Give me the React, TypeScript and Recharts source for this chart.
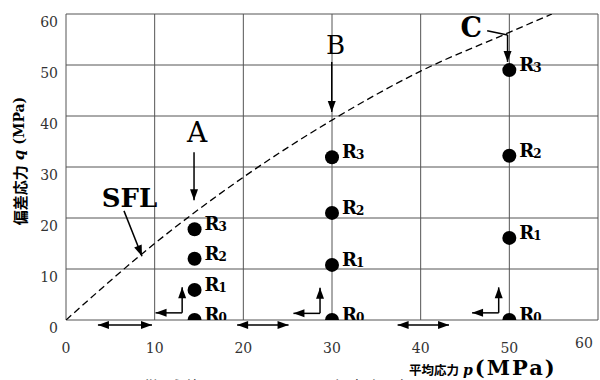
import {
    ComposedChart, XAxis, YAxis, CartesianGrid, Line, Scatter,
    ReferenceLine, ReferenceDot,
} from "recharts";

const SERIF = "'DejaVu Serif', serif";
const JP = "'Noto Sans CJK JP', sans-serif";

const TICKS = [0, 10, 20, 30, 40, 50, 60];
const STAGES = ["0", "1", "2", "3"];

// 供試体 A, B, C : 平均応力 p と 偏差応力 q (R0..R3)
const P_A = 14.5;
const Q_A = [0, 5.9, 12.0, 17.8];
const P_B = 30;
const Q_B = [0, 10.8, 21.0, 31.9];
const P_C = 50;
const Q_C = [0, 16.1, 32.2, 49.0];

// SFL (破線)
const SFL_P = [0, 10, 20, 30, 40, 50, 54.8];
const SFL_Q = [0, 15, 28, 39.2, 48.8, 56.4, 60];

const toPoints = (p: number, qs: number[]) => qs.map((q, i) => ({ p, q, stage: STAGES[i] }));
const sflData = SFL_P.map((p, i) => ({ p, q: SFL_Q[i] }));

// 注記の矢印 [p1, q1, p2, q2]
const POINTERS = [
    [14.44, 32.9, 14.44, 23.5],   // A
    [29.97, 50.6, 29.97, 40.8],   // B
    [49.8, 55.9, 49.8, 50.6],     // C
    [6.54, 21.4, 8.57, 12.5],     // SFL
];
const C_LEADER = [47.5, 56.7, 49.8, 55.9];
// 軸下の両矢印
const DOUBLE_ARROWS = [
    [3.6, 9.7],
    [19.3, 25.1],
    [37.4, 43.2],
];
const ARROW_Q = -1;
// L字矢印 (角の p, q)
const CORNERS = [
    [13.1, 1.4],
    [28.65, 1.3],
    [48.8, 1.4],
];

const arrowShape = (both: boolean) => (props: any) => {
    const { x1, y1, x2, y2 } = props;
    const dx = x2 - x1, dy = y2 - y1;
    const len = Math.sqrt(dx * dx + dy * dy) || 1;
    const ux = dx / len, uy = dy / len;
    const head = (tx: number, ty: number, sx: number, sy: number) => {
        const bx = tx - sx * 11, by = ty - sy * 11;
        return `${tx},${ty} ${bx - sy * 4},${by + sx * 4} ${bx + sy * 4},${by - sx * 4}`;
    };
    return (
        <g>
            <line x1={x1} y1={y1} x2={x2} y2={y2} stroke="#000" strokeWidth={1.5} />
            <polygon points={head(x2, y2, ux, uy)} fill="#000" />
            {both && <polygon points={head(x1, y1, -ux, -uy)} fill="#000" />}
        </g>
    );
};

const plainLine = (props: any) => (
    <line x1={props.x1} y1={props.y1} x2={props.x2} y2={props.y2} stroke="#000" strokeWidth={1.5} />
);

const textShape = (label: string, size: number, weight: string) => (props: any) => (
    <text x={props.cx} y={props.cy} textAnchor="middle" dominantBaseline="central"
        fontFamily={SERIF} fontSize={size} fontWeight={weight} fill="#000">{label}</text>
);

const StageDot = (props: any) => {
    const { cx, cy, payload } = props;
    return (
        <g>
            <circle cx={cx} cy={cy} r={7} fill="#000" />
            <text x={cx + 10} y={cy + 1} fontFamily={SERIF} fontSize={18} fontWeight="bold" fill="#000">
                R<tspan fontSize={12} dx={-1} dy={1}>{payload.stage}</tspan>
            </text>
        </g>
    );
};

const XTick = (props: any) => {
    const { x, y, payload } = props;
    const last = payload.value === 60;
    return (
        <text x={last ? x - 8 : x} y={y + (last ? 28 : 33)} textAnchor="middle"
            fontFamily={SERIF} fontSize={14} fill="#333">{payload.value}</text>
    );
};

const YTick = (props: any) => {
    const { x, y, payload } = props;
    return (
        <text x={x - 8} y={y + 13} textAnchor="end" fontFamily={SERIF} fontSize={14} fill="#333">
            {payload.value}
        </text>
    );
};

const YTitle = (props: any) => {
    const vb = props.viewBox;
    const cx = vb.x + 19;
    const cy = vb.y + vb.height / 2 - 6;
    return (
        <text x={cx} y={cy} transform={`rotate(-90, ${cx}, ${cy})`} textAnchor="middle"
            dominantBaseline="central" fill="#000" fontWeight="bold">
            <tspan fontFamily={JP} fontSize={15}>偏差応力</tspan>
            <tspan fontFamily={SERIF} fontStyle="italic" fontSize={15} dx={5}>q</tspan>
            <tspan fontFamily={SERIF} fontSize={14} dx={5}>(MPa)</tspan>
        </text>
    );
};

const XTitle = () => (
    <g>
        <text x={409} y={375} fill="#000" fontWeight="bold">
            <tspan fontFamily={JP} fontSize={12.5}>平均応力</tspan>
            <tspan fontFamily={SERIF} fontStyle="italic" fontSize={14} dx={4}>p</tspan>
            <tspan fontFamily={SERIF} fontSize={21} letterSpacing={2} dx={2}>(MPa)</tspan>
        </text>
        <text x={77} y={394} fill="#000" fontFamily={JP} fontSize={17} letterSpacing={4}>
            図-4　供試体 A，B，C の応力経路
        </text>
    </g>
);

export default function App() {
    return (
        <div style={{ position: "absolute", left: 0, top: 0, background: "#fff" }}>
            <ComposedChart width={600} height={380} margin={{ top: 14, right: 2, left: 0, bottom: 0 }}>
                <CartesianGrid stroke="#555" strokeWidth={1} />
                <XAxis type="number" dataKey="p" domain={[0, 60]} ticks={TICKS} allowDataOverflow
                    height={60} axisLine={false} tickLine={false} tickSize={0} tickMargin={0}
                    tick={<XTick />} label={<XTitle />} />
                <YAxis type="number" dataKey="q" domain={[0, 60]} ticks={TICKS} allowDataOverflow
                    width={66} axisLine={false} tickLine={false} tickSize={0} tickMargin={0}
                    tick={<YTick />} label={<YTitle />} />

                <Line data={sflData} dataKey="q" type="monotone" stroke="#000" strokeWidth={1.3}
                    strokeDasharray="7 4" dot={false} activeDot={false} isAnimationActive={false} />

                {POINTERS.map(([p1, q1, p2, q2], i) => (
                    <ReferenceLine key={`ptr${i}`} segment={[{ x: p1, y: q1 }, { x: p2, y: q2 }]}
                        ifOverflow="visible" shape={arrowShape(false)} />
                ))}
                <ReferenceLine segment={[{ x: C_LEADER[0], y: C_LEADER[1] }, { x: C_LEADER[2], y: C_LEADER[3] }]}
                    ifOverflow="visible" shape={plainLine} />
                {DOUBLE_ARROWS.map(([p1, p2], i) => (
                    <ReferenceLine key={`dbl${i}`} segment={[{ x: p1, y: ARROW_Q }, { x: p2, y: ARROW_Q }]}
                        ifOverflow="visible" shape={arrowShape(true)} />
                ))}
                {CORNERS.map(([p, q], i) => (
                    <ReferenceLine key={`up${i}`} segment={[{ x: p, y: q }, { x: p, y: q + 5 }]}
                        ifOverflow="visible" shape={arrowShape(false)} />
                ))}
                {CORNERS.map(([p, q], i) => (
                    <ReferenceLine key={`lt${i}`} segment={[{ x: p, y: q }, { x: p - 3, y: q }]}
                        ifOverflow="visible" shape={arrowShape(false)} />
                ))}

                <ReferenceDot x={14.8} y={36.7} r={0} ifOverflow="visible" shape={textShape("A", 28, "normal")} />
                <ReferenceDot x={30.4} y={54.0} r={0} ifOverflow="visible" shape={textShape("B", 26, "normal")} />
                <ReferenceDot x={45.7} y={57.3} r={0} ifOverflow="visible" shape={textShape("C", 27, "bold")} />
                <ReferenceDot x={7.16} y={24.0} r={0} ifOverflow="visible" shape={textShape("SFL", 26, "bold")} />

                <Scatter data={toPoints(P_A, Q_A)} dataKey="q" shape={<StageDot />} isAnimationActive={false} />
                <Scatter data={toPoints(P_B, Q_B)} dataKey="q" shape={<StageDot />} isAnimationActive={false} />
                <Scatter data={toPoints(P_C, Q_C)} dataKey="q" shape={<StageDot />} isAnimationActive={false} />
            </ComposedChart>
        </div>
    );
}
